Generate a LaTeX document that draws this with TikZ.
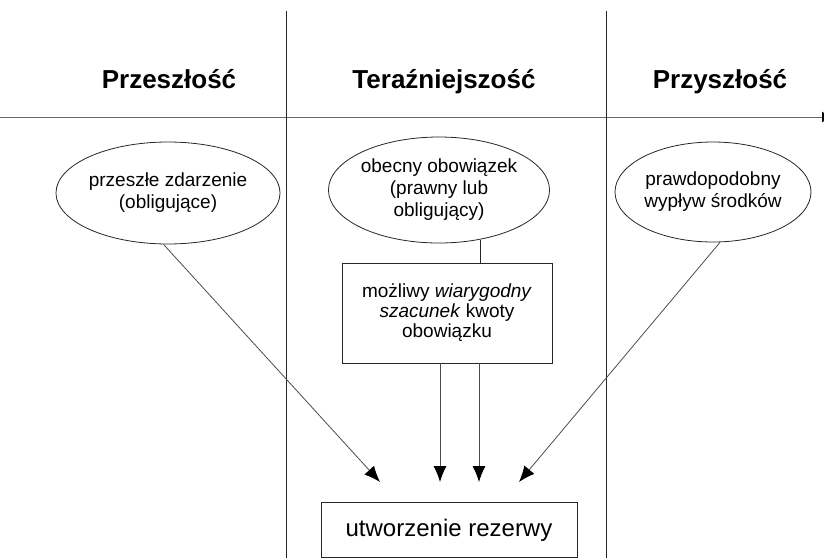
\documentclass[tikz,border=0pt]{standalone}
\usepackage{fontspec}
\setmainfont{Liberation Sans}
\usetikzlibrary{arrows.meta, positioning, shapes.geometric}
\tikzset{
    line/.style={draw=black!85, line width=0.8pt}, % plain lines
    arrow/.style={line, draw=black!70, -{Latex[length=16pt,width=13pt,color=black]}},
    event/.style={ellipse, line, inner sep=0pt, align=center,
        font=\fontsize{19}{22}\selectfont},
    heading/.style={anchor=base, font=\fontsize{26}{30}\selectfont\bfseries},
}

\begin{document}
\begin{tikzpicture}[x=1pt, y=-1pt]
    \useasboundingbox (0,0) rectangle (824,558);

    % Osie czasu
    \coordinate (axL) at (0,117);
    \coordinate (axR) at (832,117);
    \coordinate (d1t) at (286,11);
    \coordinate (d1b) at (286,558);
    \coordinate (d2t) at (606,11);
    \coordinate (d2b) at (606,558);
    \draw[line, draw=black!60, -{Latex[length=10pt,width=11pt,color=black]}] (axL) -- (axR);
    \draw[line] (d1t) -- (d1b);
    \draw[line] (d2t) -- (d2b);

    % Naglowki
    \node[heading] (past) at (169,88) {Przeszłość};
    \node[heading] (now) at (444,88) {Teraźniejszość};
    \node[heading] (future) at (720,88) {Przyszłość};

    % Warunki
    \node[event, minimum width=210pt, minimum height=102pt] (e1) at (168,193)
        {przeszłe zdarzenie\\(obligujące)};
    \node[event, minimum width=218pt, minimum height=106pt] (e2) at (439,190)
        {obecny obowiązek\\(prawny lub\\obligujący)};
    \node[event, minimum width=196pt, minimum height=100pt] (e3) at (713,192)
        {prawdopodobny\\wypływ środków};
    \node[line, minimum width=210pt, minimum height=100pt, align=center,
        font=\fontsize{19}{20}\selectfont] (est) at (447,313)
        {możliwy \textit{wiarygodny}\\\textit{szacunek} kwoty\\obowiązku};
    \node[line, minimum width=256pt, minimum height=55pt,
        font=\fontsize{24}{28}\selectfont] (res) at (449,530) {utworzenie rezerwy};

    % Strzalki
    \coordinate (t1) at (380,482);
    \coordinate (t2) at (440,482);
    \coordinate (t3) at (479,482);
    \coordinate (t4) at (519,482);
    \draw[line] (e2.-50) -- (e2.-50 |- est.north);
    \draw[arrow] (e1.-95) -- (t1);
    \draw[arrow] (est.south -| t2) -- (t2);
    \draw[arrow] (est.south -| t3) -- (t3);
    \draw[arrow] (e3.-82) -- (t4);

\end{tikzpicture}
\end{document}
